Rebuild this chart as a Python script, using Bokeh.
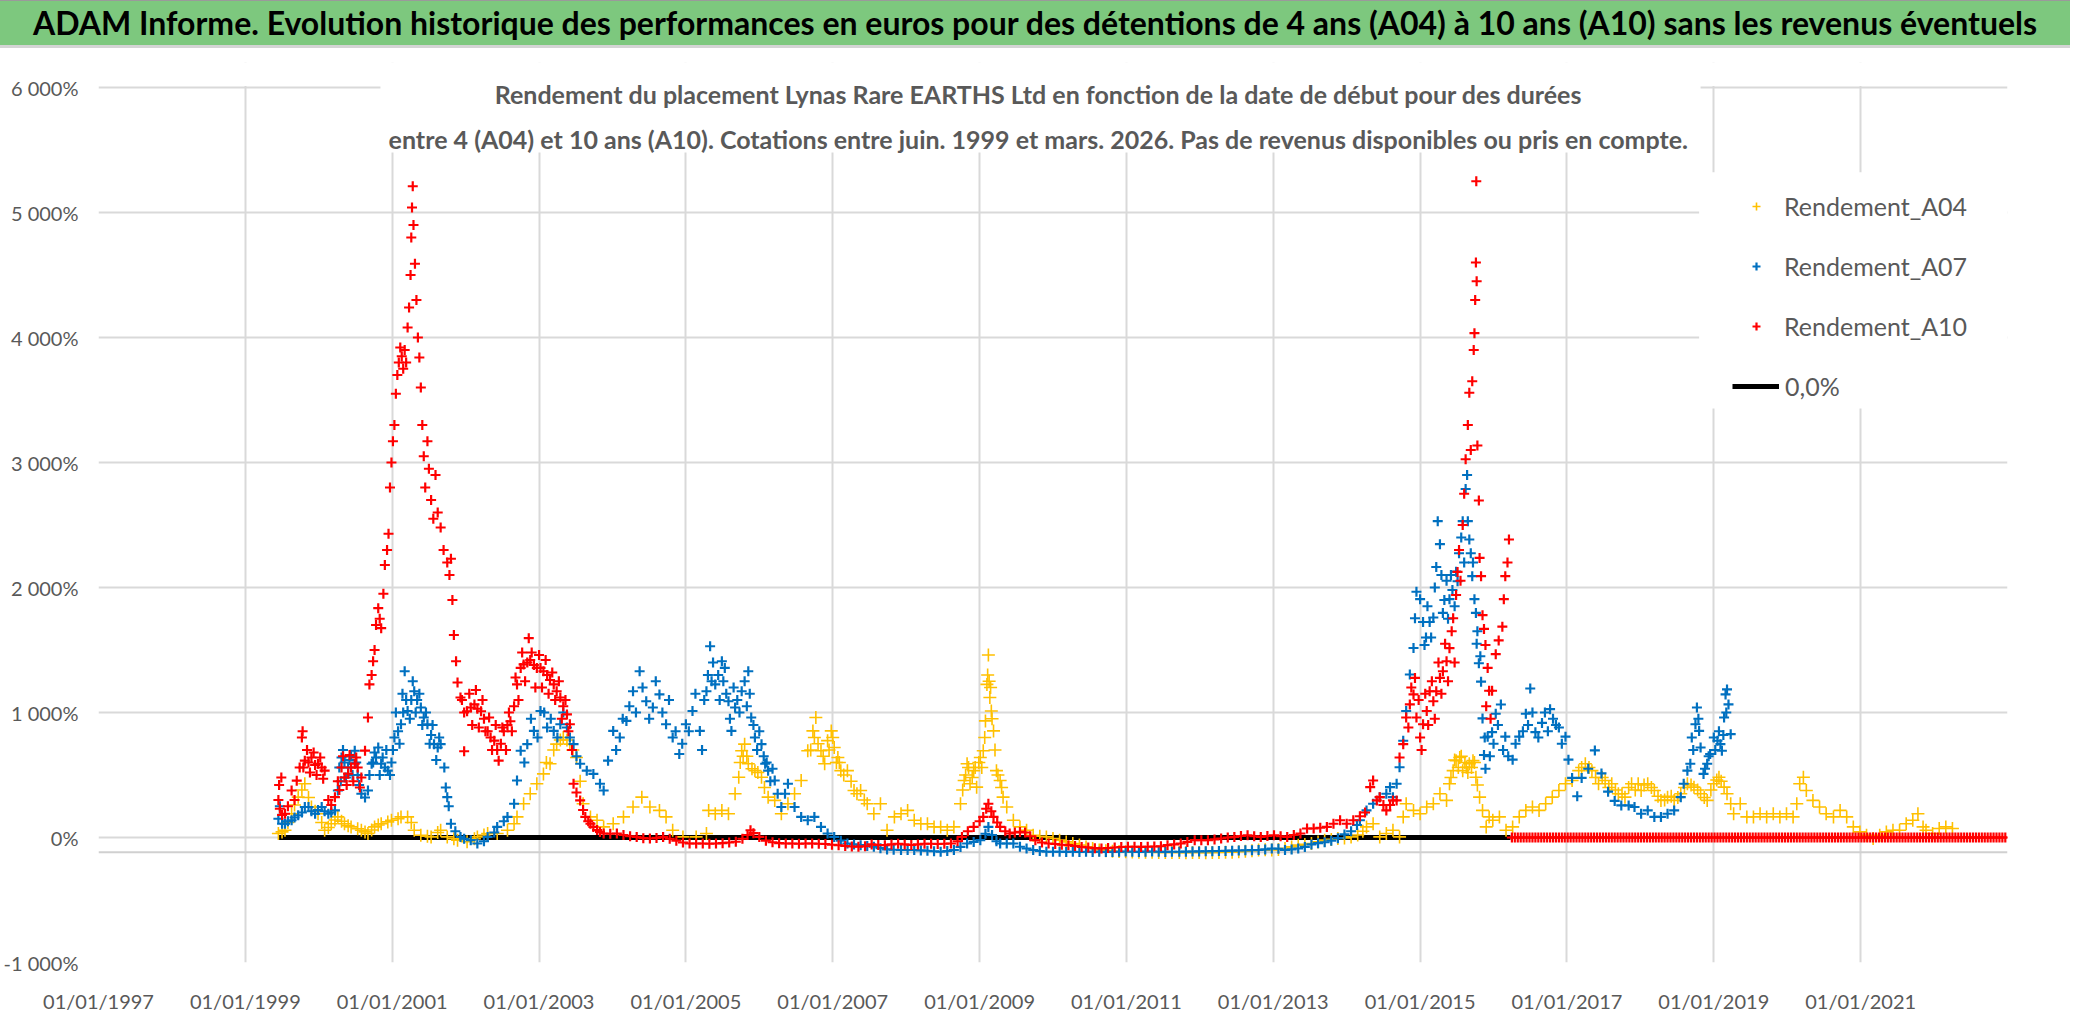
import numpy as np
from bokeh.plotting import figure
from bokeh.models import (FixedTicker, Span, BoxAnnotation, Label, Legend,
                          LegendItem, Div, Column)
from bokeh.embed import file_html
from bokeh.resources import INLINE

TITLE = ("ADAM Informe. Evolution historique des performances en euros pour des "
         "détentions de 4 ans (A04) à 10 ans (A10) sans les revenus éventuels")
SUB1 = ("Rendement du placement Lynas Rare EARTHS Ltd en fonction de la date de "
        "début pour des durées")
SUB2 = ("entre 4 (A04) et 10 ans (A10). Cotations entre juin. 1999 et mars. 2026. "
        "Pas de revenus disponibles ou pris en compte.")

year_ticks = [1997, 1999, 2001, 2003, 2005, 2007, 2009, 2011, 2013, 2015, 2017, 2019, 2021]
year_labels = {y: "01/01/%d" % y for y in year_ticks}
pct_ticks = [-1000, 0, 1000, 2000, 3000, 4000, 5000, 6000]
pct_labels = {-1000: "-1 000%", 0: "0%", 1000: "1 000%", 2000: "2 000%",
              3000: "3 000%", 4000: "4 000%", 5000: "5 000%", 6000: "6 000%"}

# dates as decimal years, returns in %
a04_t = [1999.45, 1999.50, 1999.54, 1999.58, 1999.63, 1999.67, 1999.72, 1999.77, 1999.81, 1999.86,
         1999.90, 1999.95, 1999.99, 2000.04, 2000.08, 2000.13, 2000.17, 2000.22, 2000.26, 2000.31,
         2000.35, 2000.40, 2000.44, 2000.53, 2000.58, 2000.63, 2000.67, 2000.72, 2000.76, 2000.81,
         2000.85, 2000.94, 2000.99, 2001.08, 2001.12, 2001.21, 2001.26, 2001.30, 2001.39, 2001.48,
         2001.53, 2001.62, 2001.66, 2001.75, 2001.84, 2001.89, 2002.02, 2002.12, 2002.16, 2002.25,
         2002.30, 2002.43, 2002.57, 2002.66, 2002.70, 2002.79, 2002.88, 2002.97, 2003.06, 2003.15,
         2003.24, 2003.33, 2003.42, 2003.51, 2003.56, 2003.60, 2003.70, 2003.79, 2003.88, 2004.01,
         2004.15, 2004.28, 2004.40, 2004.51, 2004.64, 2004.73, 2004.82, 2004.96, 2005.14, 2005.28,
         2005.31, 2005.40, 2005.49, 2005.58, 2005.67, 2005.72, 2005.76, 2005.80, 2005.85, 2005.94,
         2006.03, 2006.12, 2006.21, 2006.30, 2006.39, 2006.48, 2006.57, 2006.66, 2006.73, 2006.77,
         2006.84, 2006.89, 2006.93, 2006.98, 2007.02, 2007.07, 2007.11, 2007.20, 2007.29, 2007.38,
         2007.47, 2007.56, 2007.65, 2007.74, 2007.84, 2007.93, 2008.02, 2008.11, 2008.20, 2008.29,
         2008.38, 2008.47, 2008.56, 2008.65, 2008.74, 2008.79, 2008.83, 2008.87, 2008.92, 2008.96,
         2009.01, 2009.05, 2009.08, 2009.10, 2009.12, 2009.14, 2009.16, 2009.19, 2009.23, 2009.28,
         2009.32, 2009.37, 2009.46, 2009.55, 2009.64, 2009.73, 2009.82, 2009.91, 2010.00, 2010.09,
         2010.18, 2010.27, 2010.36, 2010.45, 2010.54, 2010.63, 2010.72, 2010.81, 2010.90, 2010.99,
         2011.08, 2011.17, 2011.26, 2011.35, 2011.44, 2011.53, 2011.62, 2011.72, 2011.81, 2011.90,
         2011.99, 2012.08, 2012.17, 2012.26, 2012.35, 2012.44, 2012.53, 2012.62, 2012.71, 2012.80,
         2012.89, 2012.98, 2013.07, 2013.16, 2013.25, 2013.34, 2013.43, 2013.52, 2013.61, 2013.70,
         2013.79, 2013.88, 2013.97, 2014.06, 2014.15, 2014.22, 2014.27, 2014.36, 2014.45, 2014.54,
         2014.63, 2014.72, 2014.77, 2014.81, 2014.91, 2015.00, 2015.09, 2015.18, 2015.27, 2015.36,
         2015.40, 2015.45, 2015.49, 2015.54, 2015.58, 2015.63, 2015.67, 2015.72, 2015.76, 2015.81,
         2015.85, 2015.90, 2015.94, 2015.99, 2016.08, 2016.17, 2016.26, 2016.35, 2016.44, 2016.53,
         2016.62, 2016.71, 2016.80, 2016.89, 2016.98, 2017.07, 2017.16, 2017.25, 2017.34, 2017.43,
         2017.52, 2017.61, 2017.70, 2017.79, 2017.88, 2017.97, 2018.01, 2018.10, 2018.19, 2018.28,
         2018.37, 2018.46, 2018.55, 2018.64, 2018.73, 2018.82, 2018.91, 2019.00, 2019.07, 2019.14,
         2019.23, 2019.27, 2019.36, 2019.45, 2019.54, 2019.63, 2019.72, 2019.81, 2019.90, 2019.99,
         2020.08, 2020.13, 2020.17, 2020.22, 2020.26, 2020.35, 2020.44, 2020.53, 2020.63, 2020.72,
         2020.81, 2020.90, 2020.99, 2021.08, 2021.17, 2021.26, 2021.35, 2021.44, 2021.53, 2021.62,
         2021.71, 2021.78, 2021.85, 2021.89, 2021.98, 2022.07, 2022.16, 2022.25]
a04_v = [32, 45, 58, 120, 190, 260, 323, 380, 430, 320,
         244, 210, 190, 120, 58, 80, 110, 140, 165, 130,
         110, 95, 85, 70, 58, 45, 32, 60, 85, 100,
         110, 125, 138, 150, 165, 165, 120, 58, 18, 10,
         5, 40, 58, 5, -10, -21, -34, -10, 5, 20,
         32, 32, 58, 110, 165, 270, 350, 430, 509, 590,
         747, 800, 747, 640, 450, 270, 165, 138, 85, 110,
         165, 244, 323, 244, 217, 165, 58, 5, 5, 32,
         217, 190, 217, 190, 350, 482, 694, 747, 590, 535,
         482, 323, 297, 190, 270, 350, 456, 694, 853, 960,
         694, 590, 775, 853, 720, 640, 535, 535, 376, 376,
         270, 190, 270, 58, 165, 190, 217, 138, 110, 110,
         85, 85, 58, 85, 270, 456, 590, 430, 535, 403,
         640, 694, 933, 1225, 1460, 1120, 1012, 853, 535, 456,
         323, 244, 138, 85, 58, 18, 10, 5, -8, -21,
         -35, -48, -60, -75, -88, -100, -105, -110, -112, -114,
         -116, -117, -118, -118, -119, -120, -120, -120, -121, -120,
         -120, -121, -120, -119, -118, -117, -114, -110, -105, -100,
         -98, -100, -95, -87, -75, -61, -55, -48, -35, -21,
         -15, -8, -3, 5, 20, 50, 85, 110, 5, 32,
         58, 5, 165, 270, 217, 190, 244, 270, 350, 297,
         430, 535, 615, 640, 535, 562, 590, 615, 482, 323,
         217, 85, 165, 138, 165, 58, 85, 165, 217, 244,
         217, 270, 323, 376, 430, 456, 535, 590, 535, 430,
         456, 430, 350, 323, 430, 430, 376, 430, 376, 297,
         323, 297, 350, 430, 403, 350, 297, 430, 482, 403,
         270, 190, 270, 165, 165, 190, 165, 190, 165, 190,
         165, 270, 430, 482, 376, 297, 244, 190, 165, 217,
         165, 85, 45, 18, -8, 18, 45, 58, 58, 110,
         138, 190, 85, 58, 32, 72, 85, 72]
# spread of the A04 cloud where it is thick
a04_cloud_t = [2003.10, 2003.20, 2003.29, 2003.38, 2003.46, 2005.74, 2005.78, 2005.83, 2005.90, 2005.98,
               2006.07, 2006.70, 2006.75, 2006.80, 2006.87, 2006.95, 2007.00, 2007.05, 2007.09, 2007.15,
               2007.25, 2007.33, 2007.43, 2008.77, 2008.81, 2008.85, 2008.90, 2008.94, 2008.99, 2009.03,
               2009.07, 2009.11, 2009.13, 2009.15, 2009.17, 2009.21, 2009.25, 2009.30, 2015.42, 2015.47,
               2015.52, 2015.56, 2015.61, 2015.65, 2015.70, 2015.74, 2015.78, 2017.20, 2017.30, 2017.39,
               2017.48, 2017.57, 2017.66, 2017.75, 2017.84, 2017.93, 2018.05, 2018.15, 2018.24, 2018.33,
               2018.42, 2018.51, 2018.60, 2018.69, 2018.78, 2018.87, 2018.96, 2019.04, 2019.10, 2019.18]
a04_cloud_v = [600, 700, 780, 780, 700, 600, 650, 650, 550, 520,
               400, 700, 800, 750, 650, 700, 800, 600, 600, 500,
               450, 350, 300, 380, 500, 560, 480, 560, 600, 560,
               800, 1300, 1250, 1200, 950, 700, 500, 400, 480, 620,
               560, 650, 600, 520, 560, 600, 420, 560, 560, 480,
               480, 400, 380, 350, 400, 380, 420, 400, 330, 300,
               330, 320, 400, 420, 380, 320, 380, 460, 450, 350]

a07_t = [1999.45, 1999.47, 1999.50, 1999.54, 1999.58, 1999.63, 1999.67, 1999.72, 1999.77, 1999.81,
         1999.86, 1999.90, 1999.95, 1999.99, 2000.04, 2000.08, 2000.13, 2000.17, 2000.22, 2000.26,
         2000.28, 2000.31, 2000.35, 2000.40, 2000.44, 2000.49, 2000.53, 2000.58, 2000.63, 2000.67,
         2000.72, 2000.76, 2000.81, 2000.85, 2000.90, 2000.94, 2000.99, 2001.03, 2001.08, 2001.12,
         2001.15, 2001.17, 2001.19, 2001.21, 2001.26, 2001.30, 2001.34, 2001.39, 2001.43, 2001.48,
         2001.53, 2001.57, 2001.62, 2001.66, 2001.71, 2001.73, 2001.75, 2001.77, 2001.80, 2001.86,
         2001.93, 2001.98, 2002.07, 2002.16, 2002.25, 2002.30, 2002.39, 2002.43, 2002.52, 2002.57,
         2002.66, 2002.70, 2002.75, 2002.84, 2002.93, 2003.02, 2003.11, 2003.20, 2003.29, 2003.38,
         2003.47, 2003.56, 2003.65, 2003.74, 2003.83, 2003.88, 2003.94, 2004.01, 2004.10, 2004.19,
         2004.28, 2004.37, 2004.46, 2004.55, 2004.64, 2004.73, 2004.82, 2004.91, 2005.00, 2005.09,
         2005.19, 2005.25, 2005.28, 2005.33, 2005.37, 2005.40, 2005.49, 2005.53, 2005.58, 2005.62,
         2005.67, 2005.76, 2005.85, 2005.89, 2005.94, 2006.03, 2006.08, 2006.12, 2006.21, 2006.30,
         2006.39, 2006.48, 2006.57, 2006.66, 2006.75, 2006.84, 2006.93, 2007.02, 2007.11, 2007.20,
         2007.29, 2007.38, 2007.47, 2007.56, 2007.65, 2007.74, 2007.83, 2007.93, 2008.02, 2008.11,
         2008.20, 2008.29, 2008.38, 2008.47, 2008.56, 2008.65, 2008.74, 2008.83, 2008.92, 2009.01,
         2009.08, 2009.12, 2009.17, 2009.23, 2009.28, 2009.37, 2009.46, 2009.55, 2009.64, 2009.73,
         2009.82, 2009.91, 2010.00, 2010.09, 2010.18, 2010.27, 2010.36, 2010.45, 2010.54, 2010.63,
         2010.72, 2010.81, 2010.90, 2010.99, 2011.08, 2011.17, 2011.26, 2011.35, 2011.44, 2011.53,
         2011.62, 2011.72, 2011.81, 2011.90, 2011.99, 2012.08, 2012.17, 2012.26, 2012.35, 2012.44,
         2012.53, 2012.62, 2012.71, 2012.80, 2012.89, 2012.98, 2013.07, 2013.16, 2013.25, 2013.34,
         2013.43, 2013.52, 2013.61, 2013.70, 2013.79, 2013.88, 2013.97, 2014.06, 2014.14, 2014.18,
         2014.27, 2014.36, 2014.45, 2014.54, 2014.59, 2014.63, 2014.68, 2014.72, 2014.77, 2014.81,
         2014.86, 2014.91, 2014.93, 2014.95, 2015.00, 2015.04, 2015.06, 2015.13, 2015.18, 2015.22,
         2015.24, 2015.27, 2015.31, 2015.36, 2015.40, 2015.44, 2015.49, 2015.53, 2015.58, 2015.62,
         2015.64, 2015.65, 2015.67, 2015.69, 2015.71, 2015.74, 2015.76, 2015.78, 2015.80, 2015.83,
         2015.85, 2015.87, 2015.89, 2015.92, 2015.98, 2016.03, 2016.10, 2016.16, 2016.26, 2016.35,
         2016.44, 2016.50, 2016.57, 2016.66, 2016.77, 2016.89, 2016.98, 2017.02, 2017.07, 2017.14,
         2017.20, 2017.29, 2017.38, 2017.47, 2017.56, 2017.65, 2017.74, 2017.84, 2017.92, 2018.01,
         2018.10, 2018.19, 2018.28, 2018.37, 2018.46, 2018.55, 2018.59, 2018.64, 2018.68, 2018.70,
         2018.75, 2018.77, 2018.80, 2018.82, 2018.86, 2018.91, 2018.95, 2019.00, 2019.05, 2019.09,
         2019.11, 2019.14, 2019.16, 2019.18, 2019.20, 2019.23]
a07_v = [150, 250, 110, 110, 130, 138, 160, 178, 200, 244,
         244, 210, 190, 220, 244, 210, 190, 200, 217, 376,
         560, 640, 600, 560, 650, 694, 500, 350, 320, 376,
         590, 680, 720, 590, 560, 535, 600, 800, 850, 906,
         1000, 1330, 1100, 1012, 1100, 1170, 1100, 1040, 960, 906,
         820, 747, 720, 747, 560, 400, 323, 250, 110, 50,
         5, -10, -21, -48, -30, 5, 40, 85, 130, 165,
         270, 456, 694, 747, 853, 1012, 880, 853, 906, 880,
         747, 590, 535, 509, 430, 376, 615, 853, 800, 933,
         1170, 1330, 1090, 1040, 1145, 906, 800, 668, 906, 1012,
         853, 1100, 1170, 1530, 1400, 1225, 1410, 1357, 1090, 853,
         1040, 1170, 1330, 960, 800, 747, 590, 535, 456, 244,
         430, 244, 165, 138, 165, 85, 32, 5, -25, -48,
         -55, -61, -68, -74, -85, -95, -98, -100, -100, -100,
         -103, -106, -110, -114, -108, -100, -75, -48, -35, -21,
         30, 85, 20, -30, -48, -48, -48, -74, -88, -100,
         -108, -114, -114, -114, -115, -114, -116, -114, -115, -114,
         -116, -115, -114, -112, -114, -115, -113, -112, -114, -115,
         -114, -114, -113, -112, -111, -110, -109, -108, -107, -105,
         -104, -102, -101, -100, -95, -88, -90, -100, -95, -88,
         -75, -55, -45, -38, -25, -5, 25, 50, 100, 138,
         217, 270, 323, 350, 403, 323, 430, 562, 774, 1012,
         1304, 1516, 1754, 1966, 1907, 1724, 1540, 1724, 1760, 2164,
         2531, 2347, 1797, 2054, 1907, 1980, 2127, 2274, 2531, 2788,
         2900, 2531, 2384, 2274, 2091, 1907, 1797, 1650, 1394, 1247,
         953, 660, 550, 807, 843, 990, 1064, 807, 623, 807,
         990, 1192, 843, 917, 1027, 880, 807, 623, 477, 330,
         477, 550, 697, 513, 367, 293, 257, 257, 244, 190,
         217, 165, 165, 190, 217, 323, 430, 535, 590, 800,
         906, 1040, 853, 720, 509, 590, 668, 800, 774, 747,
         694, 960, 1145, 1185, 1065, 827]
a07_cloud_t = [2000.30, 2000.33, 2000.37, 2000.42, 2000.46, 2000.51, 2000.55, 2000.69, 2000.74, 2000.78,
               2000.83, 2000.87, 2000.92, 2000.97, 2001.01, 2001.05, 2001.10, 2001.14, 2001.24, 2001.28,
               2001.32, 2001.37, 2001.41, 2001.46, 2001.51, 2001.55, 2001.60, 2001.64, 2002.80, 2002.89,
               2002.98, 2003.07, 2003.16, 2003.25, 2003.33, 2003.42, 2003.51, 2004.05, 2004.14, 2004.23,
               2004.32, 2004.41, 2004.50, 2004.59, 2004.68, 2004.77, 2004.86, 2004.95, 2005.04, 2005.13,
               2005.22, 2005.30, 2005.35, 2005.44, 2005.46, 2005.51, 2005.55, 2005.60, 2005.65, 2005.70,
               2005.73, 2005.80, 2005.83, 2005.87, 2005.92, 2005.97, 2006.00, 2006.06, 2006.10, 2006.15,
               2006.18, 2006.25, 2006.35, 2015.08, 2015.10, 2015.15, 2015.20, 2015.29, 2015.33, 2015.38,
               2015.42, 2015.47, 2015.51, 2015.56, 2015.60, 2015.72, 2015.77, 2015.82, 2015.88, 2015.95,
               2016.00, 2016.06, 2016.13, 2016.20, 2016.30, 2016.40, 2016.47, 2016.53, 2016.61, 2016.70,
               2016.74, 2016.81, 2016.85, 2016.93, 2018.72, 2018.79, 2018.88, 2018.93, 2019.02, 2019.07,
               2019.13, 2019.17]
a07_cloud_v = [450, 700, 480, 620, 500, 600, 420, 500, 600, 640,
               500, 640, 700, 500, 700, 1000, 750, 1150, 950, 1250,
               1000, 1150, 900, 1000, 750, 900, 620, 800, 600, 950,
               800, 1000, 950, 800, 1000, 800, 650, 700, 950, 1050,
               1000, 1200, 950, 1250, 1000, 1100, 850, 750, 850, 1150,
               700, 1300, 1250, 1300, 1100, 1250, 1150, 950, 1200, 1100,
               1000, 1250, 1050, 1150, 900, 700, 850, 650, 600, 450,
               550, 350, 350, 1600, 1850, 1600, 2000, 2100, 1900, 1750,
               2100, 1850, 2050, 2400, 2200, 2200, 1550, 1450, 800, 650,
               750, 900, 700, 650, 750, 850, 900, 1000, 800, 1000,
               850, 950, 900, 750, 700, 950, 550, 650, 700, 850,
               820, 1000]

a10_t = [1999.45, 1999.46, 1999.47, 1999.49, 1999.50, 1999.54, 1999.58, 1999.63, 1999.67, 1999.70,
         1999.74, 1999.77, 1999.78, 1999.81, 1999.86, 1999.90, 1999.95, 1999.99, 2000.04, 2000.08,
         2000.13, 2000.17, 2000.22, 2000.26, 2000.31, 2000.35, 2000.40, 2000.44, 2000.49, 2000.53,
         2000.58, 2000.63, 2000.67, 2000.69, 2000.72, 2000.74, 2000.76, 2000.78, 2000.81, 2000.83,
         2000.85, 2000.88, 2000.90, 2000.93, 2000.95, 2000.97, 2000.99, 2001.01, 2001.03, 2001.05,
         2001.07, 2001.09, 2001.11, 2001.13, 2001.15, 2001.17, 2001.19, 2001.21, 2001.23, 2001.25,
         2001.26, 2001.27, 2001.28, 2001.29, 2001.31, 2001.33, 2001.35, 2001.37, 2001.39, 2001.41,
         2001.43, 2001.45, 2001.48, 2001.50, 2001.53, 2001.56, 2001.59, 2001.62, 2001.66, 2001.70,
         2001.75, 2001.78, 2001.80, 2001.82, 2001.84, 2001.87, 2001.89, 2001.93, 2001.98, 2002.02,
         2002.07, 2002.12, 2002.16, 2002.21, 2002.25, 2002.30, 2002.34, 2002.39, 2002.43, 2002.48,
         2002.52, 2002.57, 2002.61, 2002.66, 2002.70, 2002.75, 2002.79, 2002.84, 2002.86, 2002.88,
         2002.93, 2002.97, 2003.02, 2003.06, 2003.11, 2003.15, 2003.20, 2003.24, 2003.29, 2003.33,
         2003.38, 2003.42, 2003.45, 2003.47, 2003.51, 2003.56, 2003.60, 2003.63, 2003.67, 2003.70,
         2003.74, 2003.79, 2003.83, 2003.88, 2003.97, 2004.06, 2004.15, 2004.24, 2004.33, 2004.42,
         2004.51, 2004.60, 2004.69, 2004.78, 2004.87, 2004.96, 2005.05, 2005.14, 2005.23, 2005.32,
         2005.41, 2005.50, 2005.59, 2005.68, 2005.77, 2005.84, 2005.88, 2005.92, 2006.00, 2006.09,
         2006.18, 2006.27, 2006.36, 2006.45, 2006.54, 2006.63, 2006.72, 2006.81, 2006.90, 2006.99,
         2007.08, 2007.17, 2007.26, 2007.35, 2007.44, 2007.53, 2007.62, 2007.71, 2007.80, 2007.89,
         2007.98, 2008.07, 2008.16, 2008.25, 2008.34, 2008.43, 2008.52, 2008.61, 2008.70, 2008.76,
         2008.84, 2008.92, 2009.00, 2009.05, 2009.09, 2009.12, 2009.16, 2009.19, 2009.24, 2009.28,
         2009.35, 2009.41, 2009.48, 2009.55, 2009.62, 2009.69, 2009.76, 2009.85, 2009.94, 2010.03,
         2010.12, 2010.21, 2010.30, 2010.39, 2010.48, 2010.57, 2010.66, 2010.75, 2010.84, 2010.93,
         2011.02, 2011.11, 2011.20, 2011.29, 2011.38, 2011.47, 2011.56, 2011.65, 2011.74, 2011.83,
         2011.93, 2012.02, 2012.11, 2012.20, 2012.29, 2012.38, 2012.47, 2012.56, 2012.65, 2012.74,
         2012.83, 2012.92, 2013.01, 2013.10, 2013.19, 2013.28, 2013.37, 2013.46, 2013.55, 2013.64,
         2013.73, 2013.82, 2013.91, 2014.00, 2014.09, 2014.18, 2014.25, 2014.32, 2014.36, 2014.41,
         2014.45, 2014.50, 2014.54, 2014.59, 2014.63, 2014.68, 2014.72, 2014.77, 2014.81, 2014.86,
         2014.91, 2014.93, 2014.95, 2015.00, 2015.04, 2015.09, 2015.13, 2015.18, 2015.22, 2015.27,
         2015.31, 2015.36, 2015.40, 2015.45, 2015.49, 2015.51, 2015.53, 2015.55, 2015.58, 2015.60,
         2015.62, 2015.65, 2015.67, 2015.69, 2015.71, 2015.73, 2015.74, 2015.75, 2015.76, 2015.765,
         2015.77, 2015.78, 2015.80, 2015.81, 2015.83, 2015.85, 2015.87, 2015.89, 2015.90, 2015.92,
         2015.94, 2015.96, 2015.98, 2016.03, 2016.07, 2016.12, 2016.14, 2016.16, 2016.19, 2016.21]
a10_v = [300, 420, 230, 480, 180, 190, 250, 376, 300, 455,
         560, 800, 850, 615, 600, 640, 580, 590, 560, 535,
         300, 260, 323, 450, 560, 480, 510, 560, 590, 560,
         480, 695, 960, 1225, 1300, 1410, 1500, 1700, 1835, 1750,
         1675, 1950, 2180, 2300, 2430, 2800, 3000, 3170, 3300, 3550,
         3700, 3800, 3920, 3850, 3750, 3900, 3800, 4080, 4240, 4500,
         4800, 5040, 5210, 4900, 4590, 4300, 4000, 3840, 3600, 3300,
         3050, 2800, 3170, 2950, 2700, 2550, 2900, 2600, 2480, 2300,
         2200, 2100, 2230, 1900, 1620, 1410, 1240, 1120, 1000, 1010,
         1040, 1065, 1030, 1010, 950, 850, 800, 775, 700, 750,
         850, 900, 930, 1050, 1225, 1357, 1385, 1400, 1595, 1420,
         1380, 1357, 1357, 1330, 1300, 1260, 1225, 1170, 1120, 1050,
         985, 906, 700, 430, 360, 297, 220, 165, 130, 110,
         85, 60, 45, 32, 30, 32, 20, 10, 5, -5,
         -8, -3, 5, -10, -25, -40, -48, -48, -48, -50,
         -48, -45, -40, -34, -10, 20, 58, 35, 5, -25,
         -38, -45, -48, -48, -50, -48, -48, -50, -52, -58,
         -62, -68, -72, -74, -70, -55, -60, -61, -55, -50,
         -55, -60, -55, -50, -50, -52, -50, -48, -30, 5,
         50, 85, 130, 165, 230, 270, 210, 165, 120, 85,
         50, 32, 40, 45, 40, 10, -21, -40, -48, -52,
         -58, -61, -68, -75, -80, -85, -87, -84, -80, -76,
         -74, -74, -75, -74, -72, -70, -61, -55, -48, -35,
         -21, -21, -21, -15, -8, 0, 5, 12, 18, 10,
         5, 12, 18, 10, 5, 20, 32, 72, 72, 78,
         85, 110, 138, 110, 138, 170, 200, 403, 456, 297,
         323, 260, 217, 260, 297, 297, 640, 747, 960, 1065,
         1145, 1277, 960, 800, 906, 1012, 1170, 1090, 1170, 1277,
         1330, 1410, 1515, 1754, 1940, 2125, 2300, 2054, 2500, 2750,
         3026, 3300, 3558, 3100, 3650, 3900, 4035, 4300, 4600, 5250,
         4450, 3136, 2696, 2237, 2091, 1779, 1669, 1540, 1050, 1357,
         1174, 950, 1174, 1467, 1577, 1687, 1907, 2091, 2200, 2384]
a10_cloud_t = [1999.79, 1999.84, 1999.88, 1999.93, 1999.97, 2000.02, 2000.06, 2000.28, 2000.33, 2000.38,
               2000.42, 2000.47, 2000.51, 2000.56, 2001.95, 2001.98, 2002.05, 2002.09, 2002.14, 2002.18,
               2002.23, 2002.27, 2002.32, 2002.36, 2002.41, 2002.45, 2002.50, 2002.55, 2002.59, 2002.63,
               2002.68, 2002.72, 2002.77, 2002.81, 2002.90, 2002.95, 2003.00, 2003.04, 2003.09, 2003.13,
               2003.18, 2003.22, 2003.27, 2003.31, 2003.36, 2003.40, 2014.84, 2014.88, 2014.98, 2015.02,
               2015.07, 2015.11, 2015.16, 2015.20, 2015.25, 2015.29, 2015.34, 2015.38, 2015.43, 2015.47]
a10_cloud_v = [560, 700, 520, 680, 500, 640, 470, 380, 650, 420,
               660, 450, 640, 400, 1100, 690, 1150, 900, 1180, 880,
               1100, 850, 960, 700, 900, 615, 880, 700, 1000, 850,
               1280, 1100, 1480, 1250, 1480, 1200, 1460, 1200, 1420, 1150,
               1320, 1100, 1250, 950, 1100, 850, 880, 1200, 1100, 700,
               1150, 900, 1250, 950, 1400, 1150, 1550, 1250, 1650, 1400]

# A10 has no more quotations after spring 2016: plotted at 0 %
a10_zero_t = np.arange(2016.25, 2022.97, 0.04)
a10_zero_v = np.zeros(len(a10_zero_t))

zero_t = [1999.45, 2016.23]
zero_v = [0, 0]

C04, C07, C10 = "#FFC000", "#0070C0", "#FF0000"
GREY = "#595959"
GRID = "#D9D9D9"

title = Div(text=TITLE, width=2070, height=48, margin=0,
            styles={"background-color": "#7DC87E", "font-family": "Lato",
                    "font-weight": "bold", "font-size": "32px", "color": "black",
                    "text-align": "center", "line-height": "44px",
                    "border-bottom": "3px solid #D4D4D4", "border-top": "1px solid #9A9A9A",
                    "box-sizing": "border-box"})

# frame reaches a little above 6000 % so that the subtitle fits inside it
p = figure(width=2070, height=967, x_range=(1997, 2023), y_range=(-1000, 6200),
           output_backend="svg", toolbar_location=None,
           min_border_left=84, min_border_right=63, min_border_top=14, min_border_bottom=50)
p.outline_line_color = None

p.xaxis.ticker = FixedTicker(ticks=year_ticks)
p.xaxis.major_label_overrides = year_labels
p.yaxis.ticker = FixedTicker(ticks=pct_ticks)
p.yaxis.major_label_overrides = pct_labels
for ax in (p.xaxis, p.yaxis):
    ax.axis_line_color = None
    ax.major_tick_line_color = None
    ax.minor_tick_line_color = None
    ax.major_label_text_font = "Lato"
    ax.major_label_text_font_size = "20px"
    ax.major_label_text_color = GREY
p.xaxis.major_label_standoff = 20
p.yaxis.major_label_standoff = 14

p.xgrid.ticker = FixedTicker(ticks=year_ticks)
p.ygrid.ticker = FixedTicker(ticks=pct_ticks)
for g in (p.xgrid, p.ygrid):
    g.grid_line_color = GRID
    g.grid_line_width = 2

p.add_layout(Span(location=-117, dimension="width", line_color="#D0D0D0",
                  line_width=2, level="underlay"))

r0 = p.line(zero_t, zero_v, line_color="black", line_width=5)
r04 = p.scatter(a04_t + a04_cloud_t, a04_v + a04_cloud_v, marker="cross", size=13,
                line_width=1.6, color=C04)
r07 = p.scatter(a07_t + a07_cloud_t, a07_v + a07_cloud_v, marker="cross", size=10,
                line_width=2.2, color=C07)
r10 = p.scatter(a10_t + a10_cloud_t, a10_v + a10_cloud_v, marker="cross", size=10,
                line_width=2.2, color=C10)
p.scatter(a10_zero_t, a10_zero_v, marker="cross", size=10, line_width=2.2, color=C10)

# white areas: strip above 6000 %, subtitle box, legend box
p.add_layout(BoxAnnotation(left=1997, right=2023, bottom=6012, top=6200,
                           fill_color="white", fill_alpha=1, line_color=None))
p.add_layout(BoxAnnotation(left=2000.84, right=2018.82, bottom=5481, top=6200,
                           fill_color="white", fill_alpha=1, line_color=None))
p.add_layout(BoxAnnotation(left=2018.8, right=2023, bottom=3433, top=5323,
                           fill_color="white", fill_alpha=1, line_color=None))

for txt, y in ((SUB1, 5952), (SUB2, 5585)):
    p.add_layout(Label(x=2009.8, y=y, text=txt, text_align="center",
                       text_baseline="middle", text_font="Lato",
                       text_font_style="bold", text_font_size="25px",
                       text_color=GREY))

# the marker legend uses a narrow glyph box so that its crosses stay small
leg_style = dict(orientation="vertical", glyph_height=60, spacing=0, padding=0, margin=0,
                 label_text_font="Lato", label_text_font_size="25px",
                 label_text_color=GREY, background_fill_alpha=0, border_line_color=None)
p.add_layout(Legend(items=[LegendItem(label="Rendement_A04", renderers=[r04]),
                           LegendItem(label="Rendement_A07", renderers=[r07]),
                           LegendItem(label="Rendement_A10", renderers=[r10])],
                    location=(1648, 606), glyph_width=20, label_standoff=18, **leg_style))
p.add_layout(Legend(items=[LegendItem(label="0,0%", renderers=[r0])],
                    location=(1634, 546), glyph_width=47, label_standoff=6, **leg_style))

layout = Column(children=[title, p], spacing=0)
open("out.html", "w").write(file_html(layout, INLINE))
